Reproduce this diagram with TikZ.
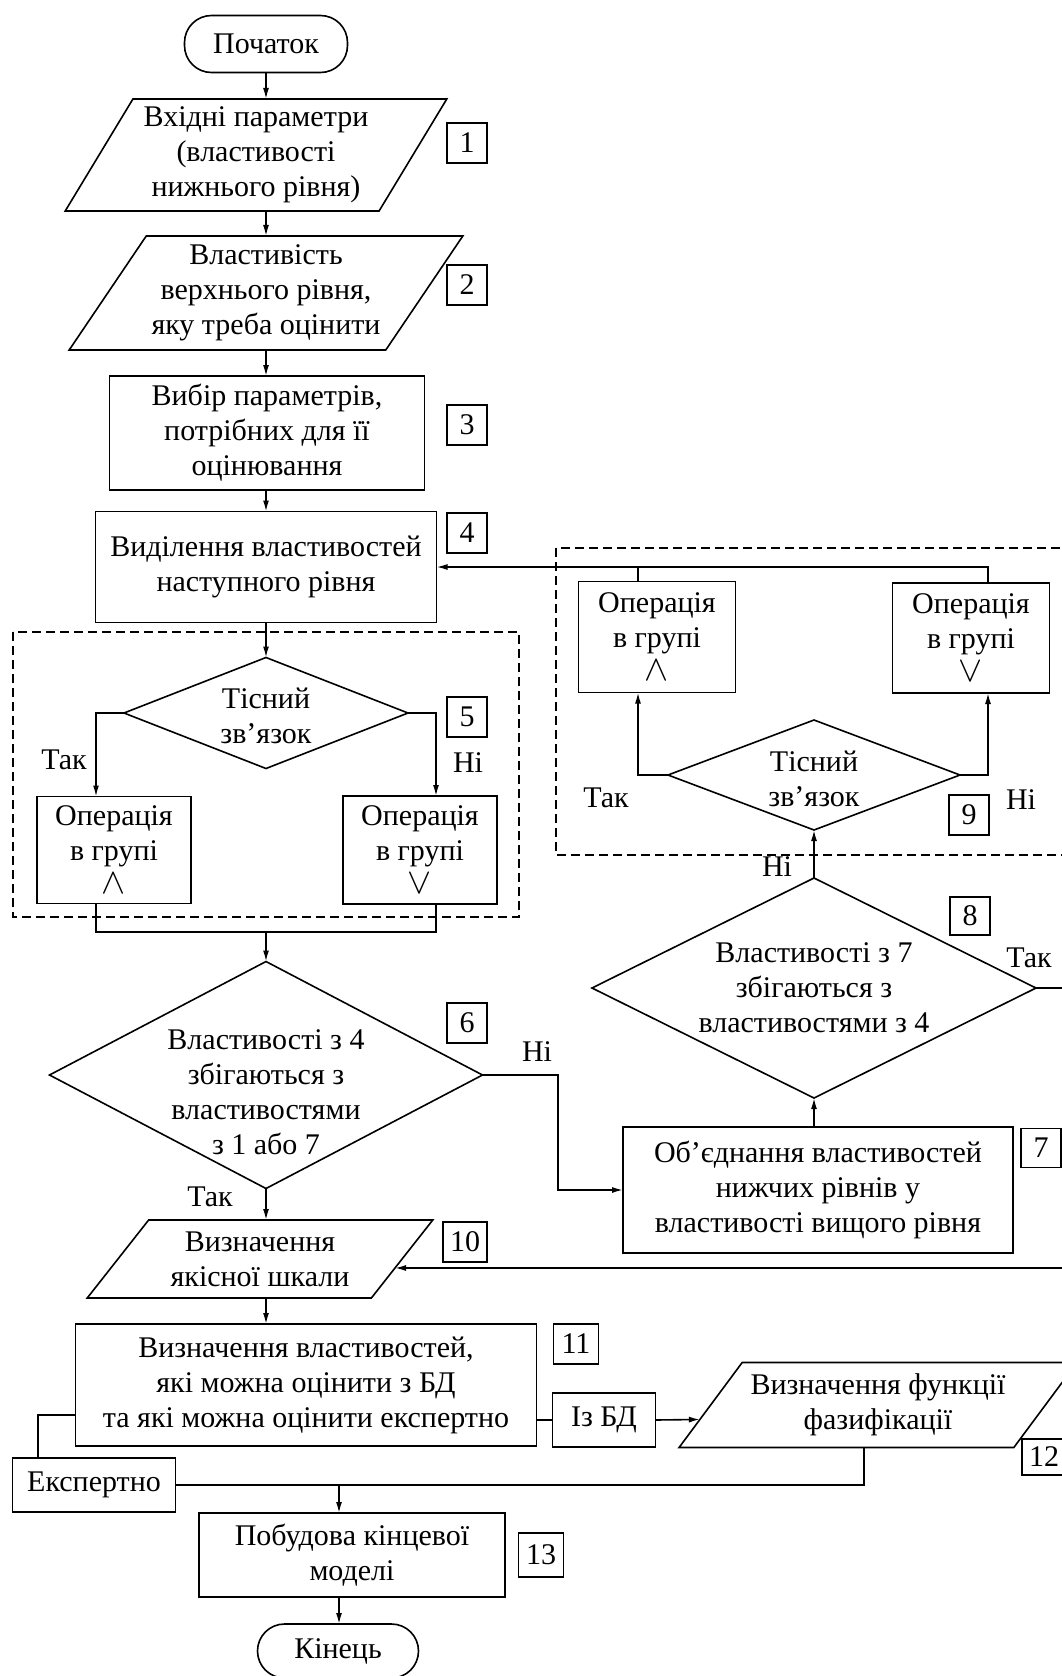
\documentclass[tikz,border=0pt]{standalone}
\usepackage{fontspec}
\setmainfont{Liberation Serif}
\usetikzlibrary{shapes.geometric,arrows.meta,calc}
\newcommand{\opand}{\scalebox{1.45}{$\wedge$}}
\newcommand{\opor}{\scalebox{1.45}{$\vee$}}
\begin{document}
\begin{tikzpicture}[x=1pt,y=-1pt,
  fbase/.style={draw, line width=1.6pt, inner sep=0pt, outer sep=0pt, align=center, font=\fontsize{30}{35}\selectfont},
  proc/.style={fbase, rectangle},
  term/.style={fbase, rectangle, rounded corners=27pt},
  io/.style={fbase, trapezium, trapezium stretches=true},
  dec/.style={fbase, diamond},
  txt/.style={inner sep=0pt, outer sep=0pt, align=center, font=\fontsize{30}{35}\selectfont},
  tag/.style={draw, line width=1.4pt, inner sep=0pt, minimum width=40pt, minimum height=40pt, font=\fontsize{30}{35}\selectfont},
  ln/.style={line width=1.6pt},
  arr/.style={line width=1.6pt, -{Latex[length=11pt,width=6pt]}},
  grp/.style={line width=1.4pt, dash pattern=on 9pt off 5pt},
]
\path[use as bounding box, fill=white] (0,0) rectangle (1062,1676);

% left column
\node[term, minimum width=163pt, minimum height=57pt] (start) at (266,44) {Початок};
\node[io, trapezium left angle=57.3, trapezium right angle=122.7, minimum width=382pt, minimum height=112pt] (p1) at (256,155) {Вхідні параметри\\(властивості\\нижнього рівня)};
\node[io, trapezium left angle=52.6, trapezium right angle=127.4, minimum width=394pt, minimum height=114pt] (p2) at (266,293) {Властивість\\верхнього рівня,\\яку треба оцінити};
\node[proc, minimum width=315pt, minimum height=114pt] (b3) at (267,433) {Вибір параметрів,\\потрібних для її\\оцінювання};
\node[proc, minimum width=341pt, minimum height=111pt] (b4) at (266,567) {Виділення властивостей\\наступного рівня};
\node[dec, minimum width=284pt, minimum height=111pt, label={[txt,yshift=-3pt]center:Тісний\\зв’язок}] (d5) at (266,713) {};
\node[proc, minimum width=154pt, minimum height=107pt] (o5L) at (114,850) {Операція\\в групі\\[-2pt]\opand};
\node[proc, minimum width=154pt, minimum height=108pt] (o5R) at (420,850) {Операція\\в групі\\[-2pt]\opor};
\node[dec, minimum width=433pt, minimum height=227pt, label={[txt,yshift=-17pt]center:Властивості з 4\\збігаються з\\властивостями\\з 1 або 7}] (d6) at (266,1075) {};
\node[io, trapezium left angle=48.1, trapezium right angle=131.9, minimum width=346pt, minimum height=78pt] (p10) at (260,1259) {Визначення\\якісної шкали};
\node[proc, minimum width=461pt, minimum height=122pt] (b11) at (306,1385) {Визначення властивостей,\\які можна оцінити з БД\\та які можна оцінити експертно};
\node[proc, minimum width=103pt, minimum height=54pt] (izbd) at (604,1420) {Із БД};
\node[io, trapezium left angle=46.4, trapezium right angle=133.6, minimum width=399pt, minimum height=85pt] (p12) at (878,1405) {Визначення функції\\фазифікації};
\node[proc, minimum width=163pt, minimum height=54pt] (eksp) at (94,1485) {Експертно};
\node[proc, minimum width=306pt, minimum height=84pt] (b13) at (352,1555) {Побудова кінцевої\\моделі};
\node[term, minimum width=161pt, minimum height=54pt] (end) at (338,1651) {Кінець};

% right part
\node[proc, minimum width=157pt, minimum height=111pt] (o9L) at (657,637) {Операція\\в групі\\[-2pt]\opand};
\node[proc, minimum width=157pt, minimum height=110pt] (o9R) at (971,638) {Операція\\в групі\\[-2pt]\opor};
\node[dec, minimum width=292pt, minimum height=110pt, label={[txt,yshift=-4pt]center:Тісний\\зв’язок}] (d9) at (814,775) {};
\node[dec, minimum width=444pt, minimum height=220pt, label={[txt]center:Властивості з 7\\збігаються з\\властивостями з 4}] (d8) at (814,988) {};
\node[proc, minimum width=390pt, minimum height=126pt] (b7) at (818,1190) {Об’єднання властивостей\\нижчих рівнів у\\властивості вищого рівня};

% number tags
\node[tag] (t1) at (467,143) {1};
\node[tag] (t2) at (467,285) {2};
\node[tag] (t3) at (467,425) {3};
\node[tag] (t4) at (467,533) {4};
\node[tag] (t5) at (467,717) {5};
\node[tag] (t6) at (467,1023) {6};
\node[tag, minimum width=44pt] (t10) at (465,1242) {10};
\node[tag, minimum width=45pt] (t11) at (576,1344) {11};
\node[tag, minimum width=44pt, minimum height=36pt] (t12) at (1044,1457) {12};
\node[tag, minimum width=45pt, minimum height=44pt] (t13) at (541,1555) {13};
\node[tag] (t9) at (969,815) {9};
\node[tag, minimum height=38pt] (t8) at (970,916) {8};
\node[tag, minimum height=39pt] (t7) at (1041,1148) {7};

% branch labels
\node[txt] (y5) at (64,760) {Так};
\node[txt] (n5) at (468,763) {Ні};
\node[txt] (n6) at (537,1052) {Ні};
\node[txt] (y6) at (210,1197) {Так};
\node[txt] (y9) at (606,798) {Так};
\node[txt] (n9) at (1021,800) {Ні};
\node[txt] (n8) at (777,867) {Ні};
\node[txt] (y8) at (1029,958) {Так};

% group frames
\draw[grp] (13,632) rectangle (519,917);
\draw[grp] (556,548) rectangle (1075,855);

% helper coordinates
\coordinate (col) at (266,0);
\coordinate (x5L) at (96,0);
\coordinate (x5R) at (436,0);
\coordinate (j5) at (266,932);
\coordinate (x9L) at (638,0);
\coordinate (x9R) at (988,0);
\coordinate (n6c) at (558,1190);
\coordinate (r8) at (1078,1268);
\coordinate (xe) at (38,1415);
\coordinate (x12) at (864,0);
\coordinate (x13) at (339,0);

% connectors
\draw[arr] (start.south) -- (start.south |- p1.north);
\draw[arr] (p1.south -| col) -- (p2.north -| col);
\draw[arr] (p2.south -| col) -- (b3.north -| col);
\draw[arr] (b3.south -| col) -- (b4.north -| col);
\draw[arr] (b4.south -| col) -- (d5.north);
\draw[arr] (d5.west) -| (o5L.north -| x5L);
\draw[arr] (d5.east) -| (o5R.north -| x5R);
\draw[ln] (o5L.south -| x5L) -- (x5L |- j5) -- (x5R |- j5) -- (o5R.south -| x5R);
\draw[arr] (j5) -- (d6.north);
\draw[arr] (d6.south) -- (d6.south |- p10.north);
\draw[arr] (d6.east) -| (n6c) -- (b7.west);
\draw[arr] (d8.south |- b7.north) -- (d8.south);
\draw[arr] (d8.north) -- (d9.south);
\draw[arr] (d9.west) -| (o9L.south -| x9L);
\draw[arr] (d9.east) -| (o9R.south -| x9R);
\draw[ln] (o9L.north -| x9L) -- (x9L |- b4.east);
\draw[arr] (o9R.north -| x9R) |- (b4.east);
\draw[arr] (d8.east) -| (r8) -- ($(p10.top right corner)!0.615!(p10.bottom right corner)$);
\draw[arr] (p10.south -| col) -- (b11.north -| col);
\draw[ln] (izbd.west -| b11.east) -- (izbd.west);
\draw[arr] (izbd.east) -- ($(p12.top left corner)!0.67!(p12.bottom left corner)$);
\draw[ln] (b11.west |- xe) -- (xe) -- (xe |- eksp.north);
\draw[ln] (eksp.east) -| (p12.south -| x12);
\draw[arr] (eksp.east -| x13) -- (b13.north -| x13);
\draw[arr] (b13.south -| x13) -- (end.north -| x13);
\end{tikzpicture}
\end{document}
